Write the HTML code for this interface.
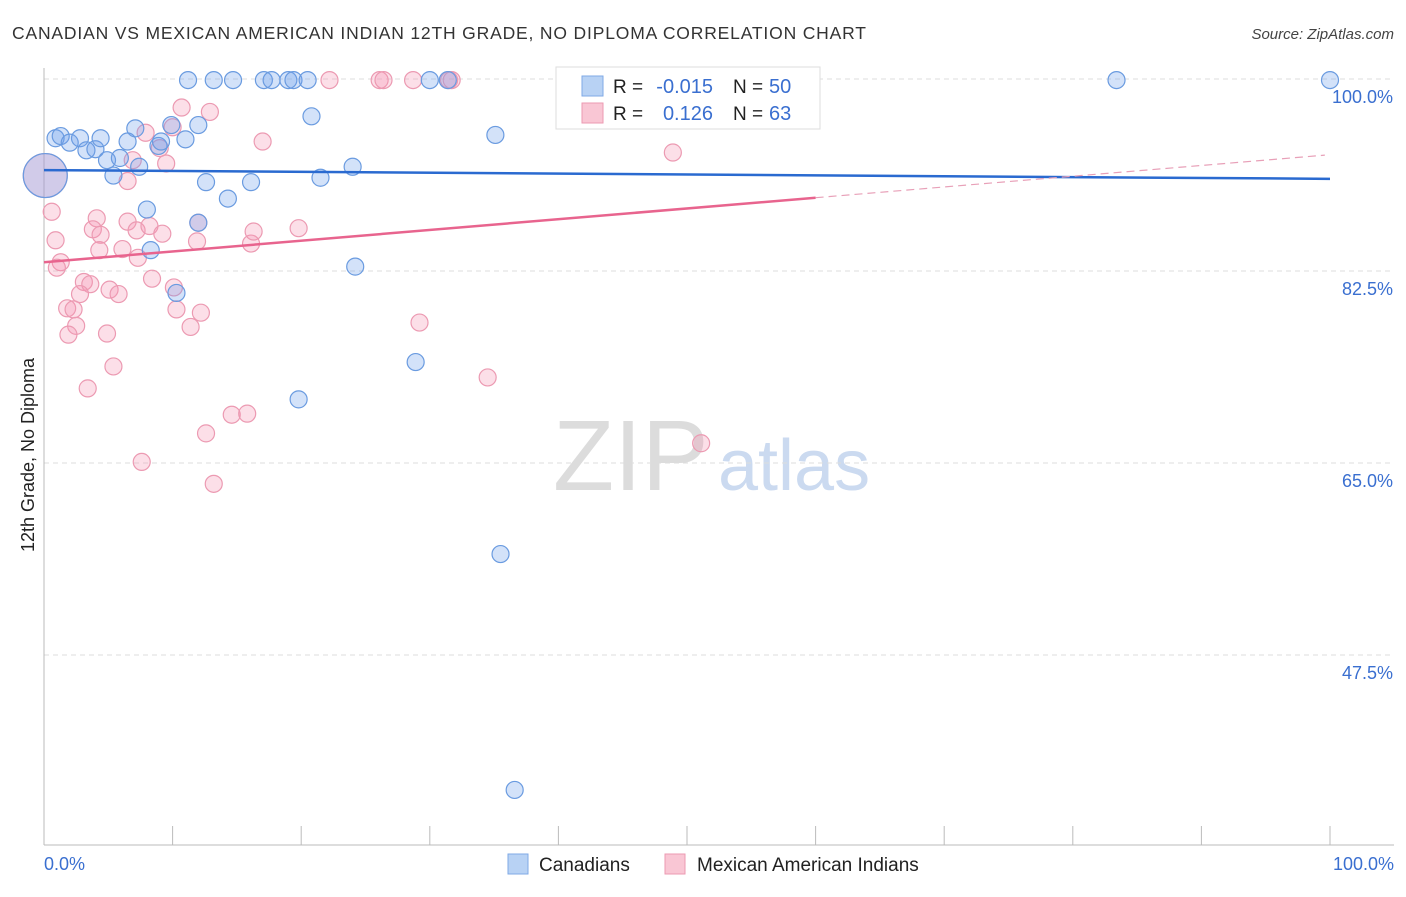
<!DOCTYPE html>
<html><head><meta charset="utf-8"><style>
body{margin:0;background:#fff;font-family:"Liberation Sans",sans-serif;}
svg text{font-family:"Liberation Sans",sans-serif;}
</style></head><body>
<svg id="c" width="1406" height="892" xmlns="http://www.w3.org/2000/svg">
<text x="12" y="39" font-size="17.5" fill="#333" textLength="854" lengthAdjust="spacing">CANADIAN VS MEXICAN AMERICAN INDIAN 12TH GRADE, NO DIPLOMA CORRELATION CHART</text>
<text x="1394" y="39" font-size="15" fill="#444" font-style="italic" text-anchor="end">Source: ZipAtlas.com</text>
<g><text x="553" y="490" font-size="100" fill="#dcdcdc" font-family="Liberation Serif,serif">ZIP</text><text x="718" y="490" font-size="72" fill="#cbdaf0">atlas</text></g>
<g id="grid"></g><g id="axes"></g><g id="pts"></g><g id="trend"></g>
<text transform="translate(34,455) rotate(-90)" font-size="18" fill="#222" text-anchor="middle">12th Grade, No Diploma</text>
<text x="44" y="870" font-size="18" fill="#3a6fd0">0.0%</text>
<text x="1394" y="870" font-size="18" fill="#3a6fd0" text-anchor="end">100.0%</text>
<g>
<rect x="556" y="67" width="264" height="62" fill="#fff" stroke="#ddd"/>
<rect x="582" y="76" width="21" height="20" fill="#b8d2f4" stroke="#7fa9e6"/>
<rect x="582" y="103" width="21" height="20" fill="#f9c6d4" stroke="#ec9ab2"/>
<text x="613" y="93" font-size="19" fill="#222">R =</text>
<text x="713" y="93" font-size="20" fill="#3a6fd0" text-anchor="end">-0.015</text>
<text x="733" y="93" font-size="19" fill="#222">N =</text>
<text x="769" y="93" font-size="20" fill="#3a6fd0">50</text>
<text x="613" y="120" font-size="19" fill="#222">R =</text>
<text x="713" y="120" font-size="20" fill="#3a6fd0" text-anchor="end">0.126</text>
<text x="733" y="120" font-size="19" fill="#222">N =</text>
<text x="769" y="120" font-size="20" fill="#3a6fd0">63</text>
</g>
<g>
<rect x="508" y="854" width="20" height="20" fill="#b8d2f4" stroke="#7fa9e6"/>
<text x="539" y="871" font-size="19" fill="#222">Canadians</text>
<rect x="665" y="854" width="20" height="20" fill="#f9c6d4" stroke="#ec9ab2"/>
<text x="697" y="871" font-size="19" fill="#222">Mexican American Indians</text>
</g>
</svg>
<script>
const yTicks=[100,82.5,65,47.5];
const yTickLabels=["100.0%","82.5%","65.0%","47.5%"];
const xTicks=[0,10,20,30,40,50,60,70,80,90,100];
const blueX=[11.2,13.2,14.7,17.1,17.7,19.0,19.4,20.5,30.0,31.4,40.9,47.7,83.4,100,20.8,35.1,56.5,0.9,1.3,2.0,2.8,3.3,4.0,4.4,4.9,5.4,5.9,6.5,7.1,7.4,8.9,9.1,9.9,11.0,12.0,12.6,14.3,16.1,21.5,24.0,8.0,8.3,10.3,24.2,28.9,19.8,35.5,36.6,0.1,12.0];
const blueY=[99.9,99.9,99.9,99.9,99.9,99.9,99.9,99.9,99.9,99.9,99.9,99.9,99.9,99.9,96.6,94.9,96.5,94.6,94.8,94.2,94.6,93.5,93.6,94.6,92.6,91.2,92.8,94.3,95.5,92.0,93.9,94.3,95.8,94.5,95.8,90.6,89.1,90.6,91.0,92.0,88.1,84.4,80.5,82.9,74.2,70.8,56.7,35.2,91.2,86.9];
const pinkX=[22.2,26.1,26.4,28.7,31.5,31.7,10.7,12.9,10.0,7.9,17.0,6.9,9.5,6.5,48.9,0.6,4.1,0.9,3.8,4.4,6.5,7.2,8.2,9.2,6.1,4.3,7.3,11.9,16.1,16.3,19.8,1.3,1.0,3.1,3.6,2.8,5.1,5.8,8.4,10.1,10.3,12.2,11.4,1.8,2.3,2.5,1.9,4.9,5.4,3.4,29.2,34.5,12.6,14.6,15.8,7.6,13.2,51.1,0.1,9.0,12.0];
const pinkY=[99.9,99.9,99.9,99.9,99.9,99.9,97.4,97.0,95.6,95.1,94.3,92.6,92.3,90.7,93.3,87.9,87.3,85.3,86.3,85.8,87.0,86.2,86.6,85.9,84.5,84.4,83.7,85.2,85.0,86.1,86.4,83.3,82.8,81.5,81.3,80.4,80.8,80.4,81.8,81.0,79.0,78.7,77.4,79.1,79.0,77.5,76.7,76.8,73.8,71.8,77.8,72.8,67.7,69.4,69.5,65.1,63.1,66.8,91.2,93.7,86.9];
const bigIdxBlue=48, bigIdxPink=58;
const blueTrend=[91.7,-0.008];
const pinkTrend=[83.3,0.098];
const pinkSolidEnd=60;

const X=v=>44+v*12.86;
const Y=v=>79+(100-v)*192/17.5;
const NS="http://www.w3.org/2000/svg";
function mk(tag,attrs,parent){const e=document.createElementNS(NS,tag);for(const k in attrs)e.setAttribute(k,attrs[k]);document.getElementById(parent).appendChild(e);return e;}

yTicks.forEach((t,i)=>{
  const l=mk('line',{x1:44,x2:1394,y1:Y(t),y2:Y(t),stroke:'#ddd','stroke-dasharray':'5,4'},'grid');
  
  
  const tx=mk('text',{x:1393,y:Y(t)+24,'font-size':18,fill:'#3a6fd0','text-anchor':'end'},'grid');
  tx.textContent=yTickLabels[i];
  
  
});
let a=mk('line',{x1:44,x2:44,y1:68,y2:845,stroke:'#bbb'},'axes');


a=mk('line',{x1:44,x2:1394,y1:845,y2:845,stroke:'#bbb'},'axes');


xTicks.forEach(t=>{
  const l=mk('line',{x1:X(t),x2:X(t),y1:826,y2:845,stroke:'#bbb'},'axes');
  
  
});
function pts(xs,ys,fill,stroke,big,name){
  xs.forEach((x,i)=>{
    const c=mk('circle',{cx:X(x),cy:Y(ys[i]),r:i===big?22:8.5,fill:fill,stroke:stroke,'stroke-width':1.2},'pts');
    
    
  });
}
pts(pinkX,pinkY,'rgba(244,150,180,0.3)','#ec9ab2',bigIdxPink,'mexican-point');
pts(blueX,blueY,'rgba(110,160,235,0.3)','#6a9be0',bigIdxBlue,'canadian-point');
let t=mk('line',{x1:X(0),x2:X(100),y1:Y(blueTrend[0]),y2:Y(blueTrend[0]+blueTrend[1]*100),stroke:'#2a6ad0','stroke-width':2.5},'trend');


t=mk('line',{x1:X(0),x2:X(pinkSolidEnd),y1:Y(pinkTrend[0]),y2:Y(pinkTrend[0]+pinkTrend[1]*pinkSolidEnd),stroke:'#e8648e','stroke-width':2.5},'trend');


t=mk('line',{x1:X(pinkSolidEnd),x2:X(99.6),y1:Y(pinkTrend[0]+pinkTrend[1]*pinkSolidEnd),y2:Y(pinkTrend[0]+pinkTrend[1]*99.6),stroke:'#e8a0b8','stroke-width':1.2,'stroke-dasharray':'8,5'},'trend');


</script>
</body></html>
